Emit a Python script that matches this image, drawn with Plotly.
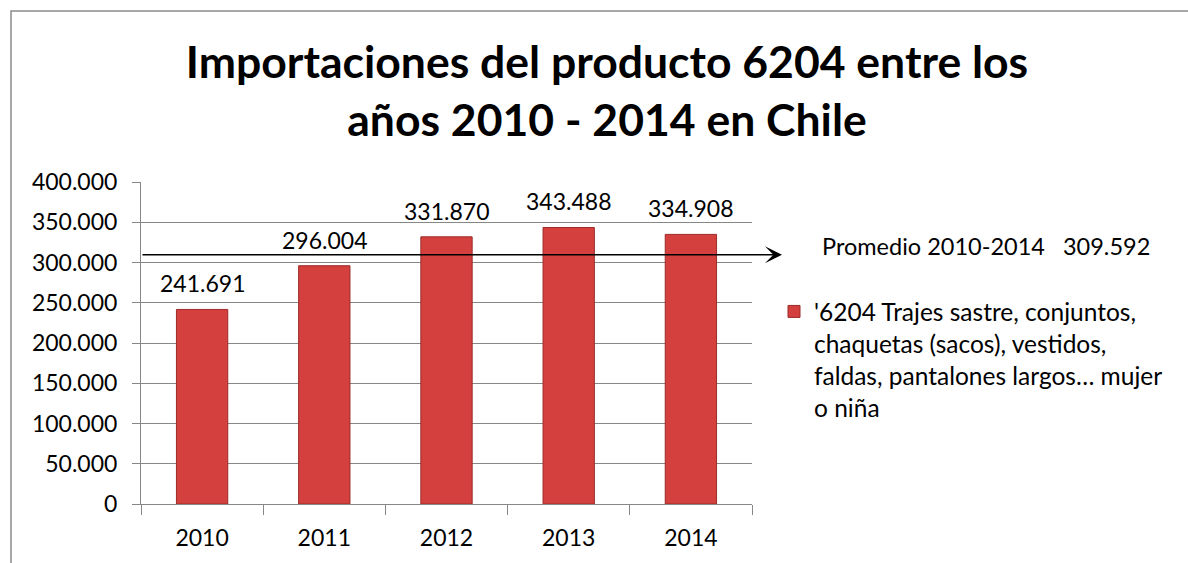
import plotly.graph_objects as go

years = ["2010", "2011", "2012", "2013", "2014"]
values = [241691, 296004, 331870, 343488, 334908]
series_name = "'6204 Trajes sastre, conjuntos,<br>chaquetas (sacos), vestidos,<br>faldas, pantalones largos… mujer<br>o niña"
title_text = "Importaciones del producto 6204 entre los<br>años 2010 - 2014 en Chile"
avg_label = "Promedio 2010-2014"

mean_val = sum(values) / len(values)

def fmt(v):
    return f"{int(round(v)):,}".replace(",", ".")

W, H = 1188, 563
L, R, T, B = 141, 752, 182, 504
pw, ph = R - L, B - T

def px_x(p):
    return (p - L) / pw

def px_y(p):
    return (B - p) / ph

FONT = "Lato"
GRID = "#878787"

fig = go.Figure()
fig.add_trace(go.Bar(
    x=years, y=values, name=series_name, width=0.42,
    marker=dict(color="#d3403d", line=dict(color="#9c2b29", width=1)),
    showlegend=True,
))

annotations = []
for i, v in enumerate(values):
    annotations.append(dict(x=i, y=v, xref="x", yref="y", text=fmt(v), showarrow=False,
                            yanchor="middle", yshift=26, font=dict(size=23, color="black", family=FONT)))
# average arrow line
annotations.append(dict(x=px_x(782), y=mean_val, xref="paper", yref="y", text="",
                        showarrow=True, ax=L - 782, ay=0, axref="pixel", ayref="pixel",
                        arrowhead=3, arrowsize=1.9, arrowwidth=1.5, arrowcolor="black",
                        standoff=0, startstandoff=0))
annotations.append(dict(x=px_x(820), y=mean_val, xref="paper", yref="y",
                        text=f"{avg_label}   {fmt(mean_val)}", showarrow=False,
                        xanchor="left", yanchor="middle", yshift=9,
                        font=dict(size=23.5, color="black", family=FONT)))

fig.update_layout(
    width=W, height=H,
    margin=dict(l=L, r=W - R, t=T, b=H - B),
    paper_bgcolor="white", plot_bgcolor="white",
    separators=",.",
    font=dict(family=FONT, size=23, color="black"),
    title=dict(text=title_text, x=607 / W, xanchor="center", y=1 - 78 / H, yanchor="top",
               yref="container", font=dict(family=FONT, size=44.5, color="black", weight="bold")),
    xaxis=dict(type="category", showgrid=False, showline=True, linecolor=GRID, linewidth=1,
               ticks="outside", tickson="boundaries", ticklen=10, tickcolor=GRID,
               tickfont=dict(size=23, family=FONT, color="black"), ticklabelstandoff=13),
    yaxis=dict(range=[0, 400000], dtick=50000, tickformat=",.0f", showgrid=True, gridcolor=GRID,
               gridwidth=1, showline=True, linecolor=GRID, linewidth=1, ticks="outside",
               ticklen=8, tickcolor=GRID, zeroline=False,
               tickfont=dict(size=23, family=FONT, color="black"), ticklabelstandoff=10),
    legend=dict(x=px_x(774), y=px_y(289), xanchor="left", yanchor="top", valign="top",
                font=dict(size=24.5, family=FONT, color="black"), bgcolor="rgba(0,0,0,0)",
                itemclick=False),
    annotations=annotations,
    shapes=[dict(type="rect", xref="paper", yref="paper", x0=px_x(11), x1=px_x(1300),
                 y0=px_y(700), y1=px_y(11), line=dict(color="#8c8c8c", width=1.5),
                 fillcolor="rgba(0,0,0,0)", layer="below")],
)

fig.write_html("out.html")
